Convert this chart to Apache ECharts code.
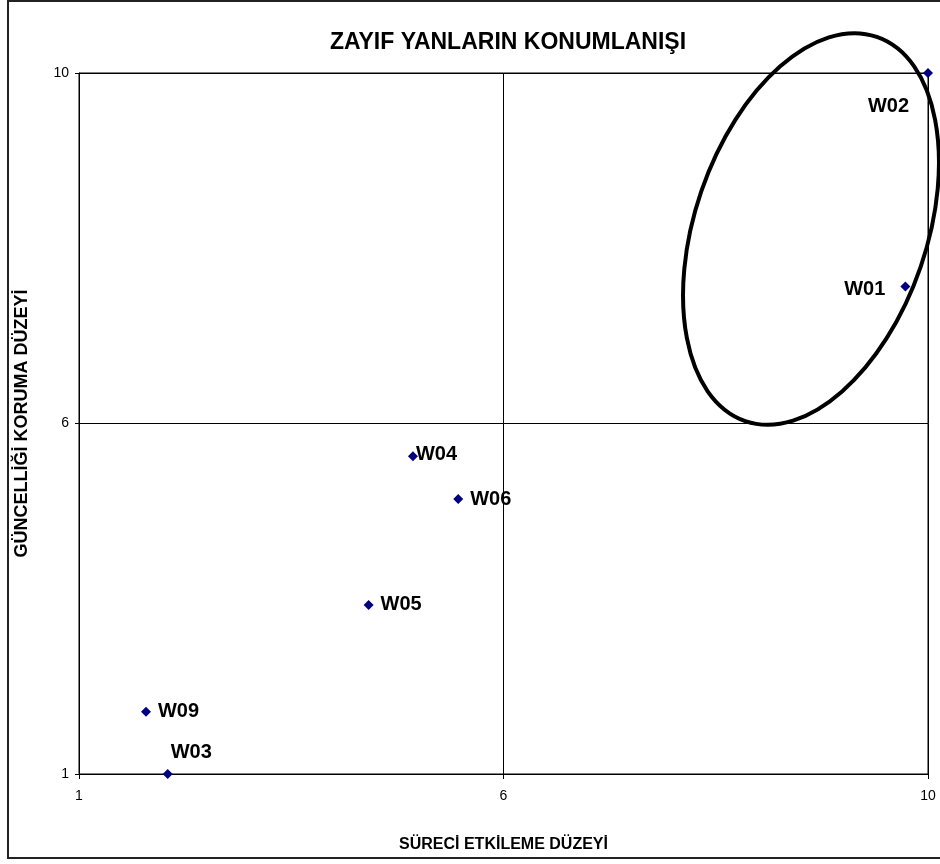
<!DOCTYPE html>
<html lang="tr">
<head>
    <meta charset="UTF-8">
    <title>Zayıf yanların konumlanışı</title>
    <script src="https://cdn.jsdelivr.net/npm/echarts@6/dist/echarts.min.js"></script>
    <style>
        html, body { margin: 0; padding: 0; background: #fff; }
        #chart { width: 940px; height: 864px; }
    </style>
</head>
<body>
<div id="chart"></div>
<script>
    // veriler
    var names = ['W01', 'W02', 'W03', 'W04', 'W05', 'W06', 'W09'];
    var xValues = [9.76, 10, 1.94, 4.54, 4.07, 5.02, 1.71];   // süreci etkileme düzeyi
    var yValues = [7.26, 10, 1, 5.08, 3.17, 4.53, 1.8];       // güncelliği koruma düzeyi

    // etiket yerleşimi (Excel'de elle taşınmış)
    var labelPlace = {
        W01: {align: 'right', offset: [-20, 3]},
        W02: {align: 'right', offset: [-19, 33]},
        W03: {align: 'left', offset: [3, -22]},
        W04: {align: 'left', offset: [3, -2]},
        W05: {align: 'left', offset: [12, 0]},
        W06: {align: 'left', offset: [12, 0]},
        W09: {align: 'left', offset: [12, 0]}
    };

    var points = [];
    for (var i = 0; i < names.length; i++) {
        var lp = labelPlace[names[i]];
        points.push({
            name: names[i],
            value: [xValues[i], yValues[i]],
            label: {align: lp.align, offset: lp.offset}
        });
    }

    var fontFam = '"Liberation Sans", Arial, sans-serif';
    var chart = echarts.init(document.getElementById('chart'));

    chart.setOption({
        animation: false,
        backgroundColor: '#fff',
        textStyle: {fontFamily: fontFam},
        title: {
            text: 'ZAYIF YANLARIN KONUMLANIŞI',
            left: 503,
            top: 26,
            textAlign: 'center',
            textStyle: {fontSize: 23, fontWeight: 'bold', color: '#000', fontFamily: fontFam}
        },
        grid: {
            left: 79, right: 12, top: 73, bottom: 90,
            show: true, borderColor: '#000', borderWidth: 1
        },
        xAxis: {
            type: 'value',
            min: 1, max: 10, interval: 4.5,
            name: 'SÜRECİ ETKİLEME DÜZEYİ',
            nameLocation: 'middle',
            nameGap: 63,
            nameTextStyle: {fontSize: 16, fontWeight: 'bold', color: '#000', fontFamily: fontFam},
            axisLine: {lineStyle: {color: '#000', width: 1}},
            axisTick: {show: true, length: 5, lineStyle: {color: '#000'}},
            axisLabel: {
                color: '#000', fontSize: 14, margin: 15,
                formatter: function (v) { return Math.round(v); }
            },
            splitLine: {show: true, lineStyle: {color: '#000', width: 1}}
        },
        yAxis: {
            type: 'value',
            min: 1, max: 10, interval: 4.5,
            name: 'GÜNCELLİĞİ KORUMA DÜZEYİ',
            nameLocation: 'middle',
            nameGap: 48,
            nameTextStyle: {fontSize: 18, fontWeight: 'bold', color: '#000', fontFamily: fontFam},
            axisLine: {lineStyle: {color: '#000', width: 1}},
            axisTick: {show: true, length: 4, lineStyle: {color: '#000'}},
            axisLabel: {
                color: '#000', fontSize: 14, margin: 10,
                formatter: function (v) { return Math.round(v); }
            },
            splitLine: {show: true, lineStyle: {color: '#000', width: 1}}
        },
        series: [{
            type: 'scatter',
            symbol: 'diamond',
            symbolSize: 10,
            itemStyle: {color: '#000080', opacity: 1},
            label: {
                show: true,
                position: 'inside',
                formatter: '{b}',
                color: '#000',
                fontSize: 20,
                fontWeight: 'bold',
                fontFamily: fontFam
            },
            data: points
        }],
        graphic: [
            {
                // dış çerçeve
                type: 'rect',
                shape: {x: 8, y: 1, width: 960, height: 857},
                style: {fill: 'none', stroke: '#222', lineWidth: 2},
                silent: true
            },
            {
                // vurgulama elipsi
                type: 'ellipse',
                x: 811, y: 229,
                rotation: -0.33,
                shape: {cx: 0, cy: 0, rx: 116, ry: 203},
                style: {fill: 'none', stroke: '#000', lineWidth: 4},
                silent: true,
                z: 10
            }
        ]
    });
</script>
</body>
</html>
